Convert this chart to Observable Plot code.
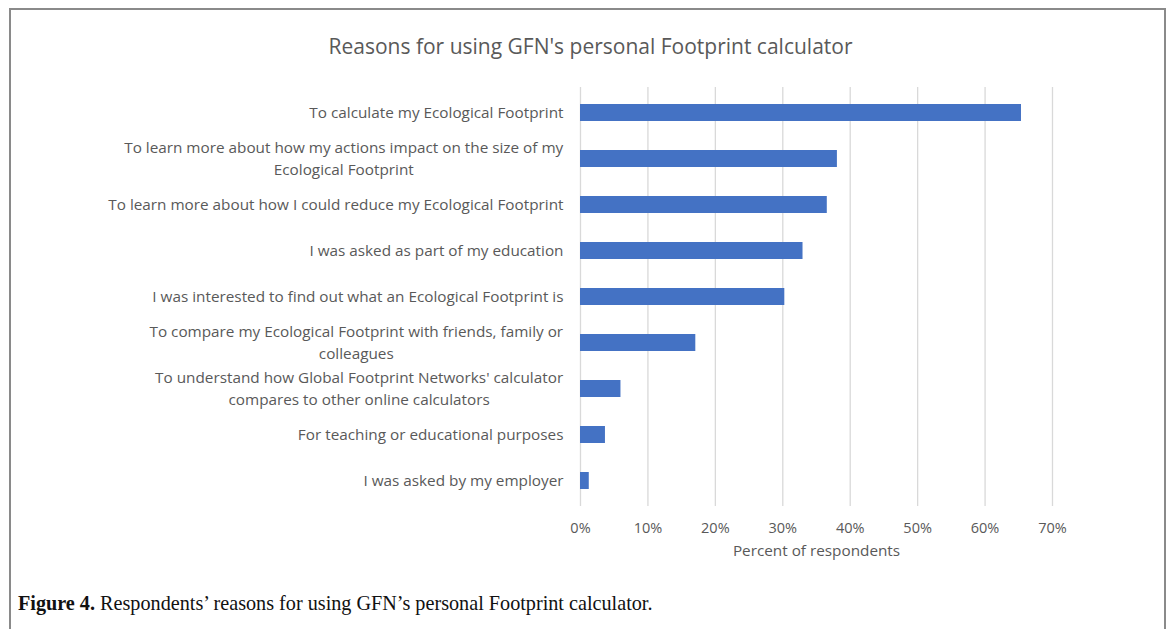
<!DOCTYPE html>
<html>
<head>
<meta charset="utf-8">
<script src="https://cdn.jsdelivr.net/npm/d3@7"></script>
<script src="https://cdn.jsdelivr.net/npm/@observablehq/plot@0.6"></script>
<style>
  html, body { margin: 0; padding: 0; background: #fff; }
  #page { position: relative; width: 1171px; height: 629px; overflow: hidden; }
  #frame { position: absolute; left: 9px; top: 8px; width: 1157px; height: 700px; border: 2px solid #8a8a8a; border-bottom: none; box-sizing: border-box; }
  #title { position: absolute; left: 0; width: 1171px; top: 32px; text-align: center; font-family: "Open Sans", sans-serif; font-size: 21px; color: #595959; margin-left: 5px; }
  #chart { position: absolute; left: 0; top: 0; }
  #caption { position: absolute; left: 18px; top: 592px; font-family: "Liberation Serif", "DejaVu Serif", serif; font-size: 20.2px; color: #111; white-space: nowrap; }
</style>
</head>
<body>
<div id="page">
  <div id="frame"></div>
  <div id="title">Reasons for using GFN's personal Footprint calculator</div>
  <div id="chart"></div>
  <div id="caption"><b>Figure 4.</b> Respondents’ reasons for using GFN’s personal Footprint calculator.</div>
</div>
<script>
const reasons = [
  "To calculate my Ecological Footprint",
  "To learn more about how my actions impact on the size of my\nEcological Footprint",
  "To learn more about how I could reduce my Ecological Footprint",
  "I was asked as part of my education",
  "I was interested to find out what an Ecological Footprint is",
  "To compare my Ecological Footprint with friends, family or\ncolleagues",
  "To understand how Global Footprint Networks' calculator\ncompares to other online calculators",
  "For teaching or educational purposes",
  "I was asked by my employer"
];
const percents = [0.654, 0.381, 0.366, 0.330, 0.303, 0.171, 0.060, 0.037, 0.013];
const xTicks = [0, 0.1, 0.2, 0.3, 0.4, 0.5, 0.6, 0.7];

const data = reasons.map((r, i) => ({reason: r, value: percents[i]}));

const chart = Plot.plot({
  width: 1171,
  height: 570,
  marginLeft: 580,
  marginRight: 119,
  marginTop: 87,
  marginBottom: 64,
  style: { fontFamily: "'Open Sans', sans-serif", fontSize: "14px", color: "#595959", background: "transparent" },
  x: { domain: [0, 0.7], ticks: xTicks },
  y: { domain: reasons, paddingInner: 0.64, paddingOuter: 0.32, align: 0.5 },
  marks: [
    Plot.ruleX(xTicks, { stroke: "#d9d9d9", strokeWidth: 1.3, strokeOpacity: 1 }),
    Plot.barX(data, { x: "value", y: "reason", fill: "#4472C4" }),
    Plot.axisX({ ticks: xTicks, tickFormat: d3.format(".0%"), tickSize: 0, tickPadding: 16, fill: "#595959", fontSize: 14.5, label: null }),
    Plot.text(["Percent of respondents"], { frameAnchor: "bottom", lineAnchor: "middle", dy: 45, text: d => d, fill: "#595959", fontSize: 15.3, x: () => 0.35 }),
    Plot.axisY({ tickSize: 0, tickPadding: 17, dy: -2, label: null, lineHeight: 1.4, fill: "#595959", fontSize: 15.3 })
  ]
});
document.getElementById("chart").appendChild(chart);

// Wrapped category labels are centred line by line (as in the original), right edge kept at the axis padding
chart.querySelectorAll("text").forEach(t => {
  const spans = t.querySelectorAll("tspan");
  if (spans.length > 1) {
    const w = t.getBBox().width;
    t.setAttribute("text-anchor", "middle");
    t.style.textAnchor = "middle";
    spans.forEach(s => s.setAttribute("x", -w / 2));
  }
});
</script>
</body>
</html>
